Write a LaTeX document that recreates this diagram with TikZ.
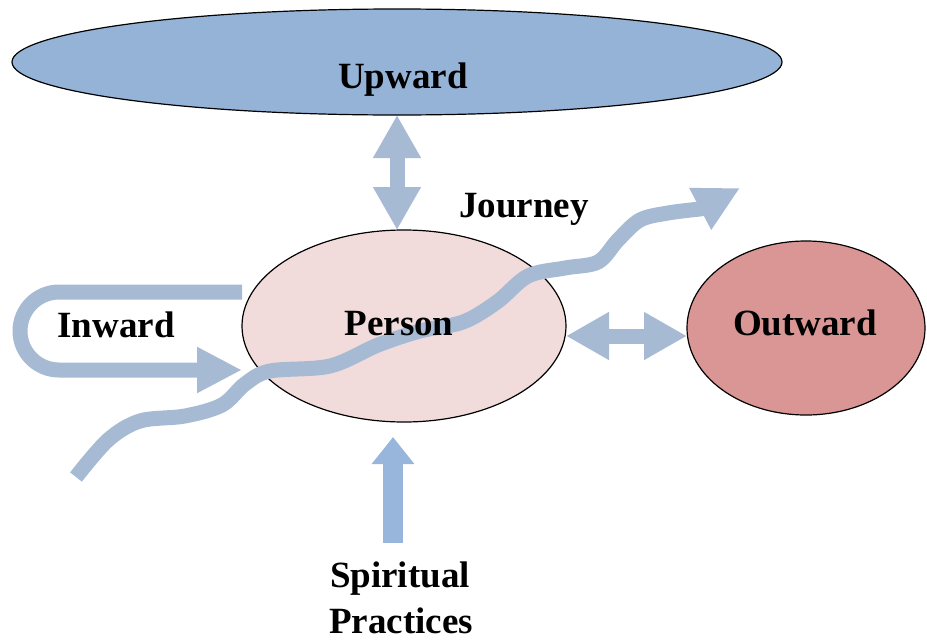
\documentclass[tikz,border=0pt]{standalone}
\usepackage{fontspec}
\setmainfont{Liberation Serif}
\usetikzlibrary{shapes.geometric,arrows.meta}
\definecolor{upfill}{HTML}{95B3D7}
\definecolor{personfill}{HTML}{F2DCDB}
\definecolor{outfill}{HTML}{D99694}
\definecolor{bandc}{HTML}{A7BAD4}
\definecolor{spbandc}{HTML}{98B6DC}
\begin{document}
\begin{tikzpicture}[x=1pt,y=-1pt,
  oval/.style={ellipse, draw=black, line width=1.2pt, inner sep=0pt, outer sep=0pt},
  lbl/.style={font=\fontsize{37}{44}\selectfont\bfseries, anchor=base, inner sep=0pt},
  band/.style={draw=bandc, line width=15pt},
  dbl/.style={band, {Triangle[width=45pt,length=43pt]}-{Triangle[width=45pt,length=43pt]}},
  sparrow/.style={draw=spbandc, line width=20pt, -{Triangle[width=41pt,length=27pt]}}]
\useasboundingbox (0,0) rectangle (927,643);

% ellipses
\node[oval, fill=upfill, minimum width=770pt, minimum height=106pt] (up) at (397,62) {};
\node[oval, fill=personfill, minimum width=324pt, minimum height=192pt] (person) at (404,326) {};
\node[oval, fill=outfill, minimum width=238pt, minimum height=174pt] (out) at (806,328) {};

% free ends
\coordinate (js) at (76,477);
\coordinate (je) at (740,188);
\coordinate (spb) at (393,543);
\coordinate (spt) at (393,437);

% Upward <-> Person
\draw[dbl] (up.south) -- (up.south |- person.north);
% Person <-> Outward
\draw[dbl] ([yshift=-10pt]person.east) -- ([yshift=-8pt]out.west);
% Inward loop
\draw[band, -{Triangle[width=43pt,length=45pt]}]
  ([yshift=34pt]person.west) -- ++(-183,0)
  arc[start angle=270, end angle=90, radius=39]
  -- ([yshift=-44pt]person.west);
% Journey wave
\draw[band, -{Triangle[width=44pt,length=45pt]}]
  plot[smooth, tension=0.55] coordinates {(js) (108,440) (140,421) (185,416) (222,405) (245,384) (270,371) (330,366) (378,345) (420,331) (463,322) (497,302) (528,276) (565,268) (598,262) (618,240) (640,220) (668,213) (700,209)}
  -- (je);
% Spiritual practices arrow
\draw[sparrow] (spb) -- (spt);

% labels
\node[lbl] (upL) at (403,88) {Upward};
\node[lbl] (personL) at (399,335) {Person};
\node[lbl] (outL) at (805,335) {Outward};
\node[lbl] (inL) at (116,337) {Inward};
\node[lbl] (jL) at (524,217) {Journey};
\node[lbl] (sp1) at (400,587) {Spiritual};
\node[lbl] (sp2) at (401,633) {Practices};
\end{tikzpicture}
\end{document}
